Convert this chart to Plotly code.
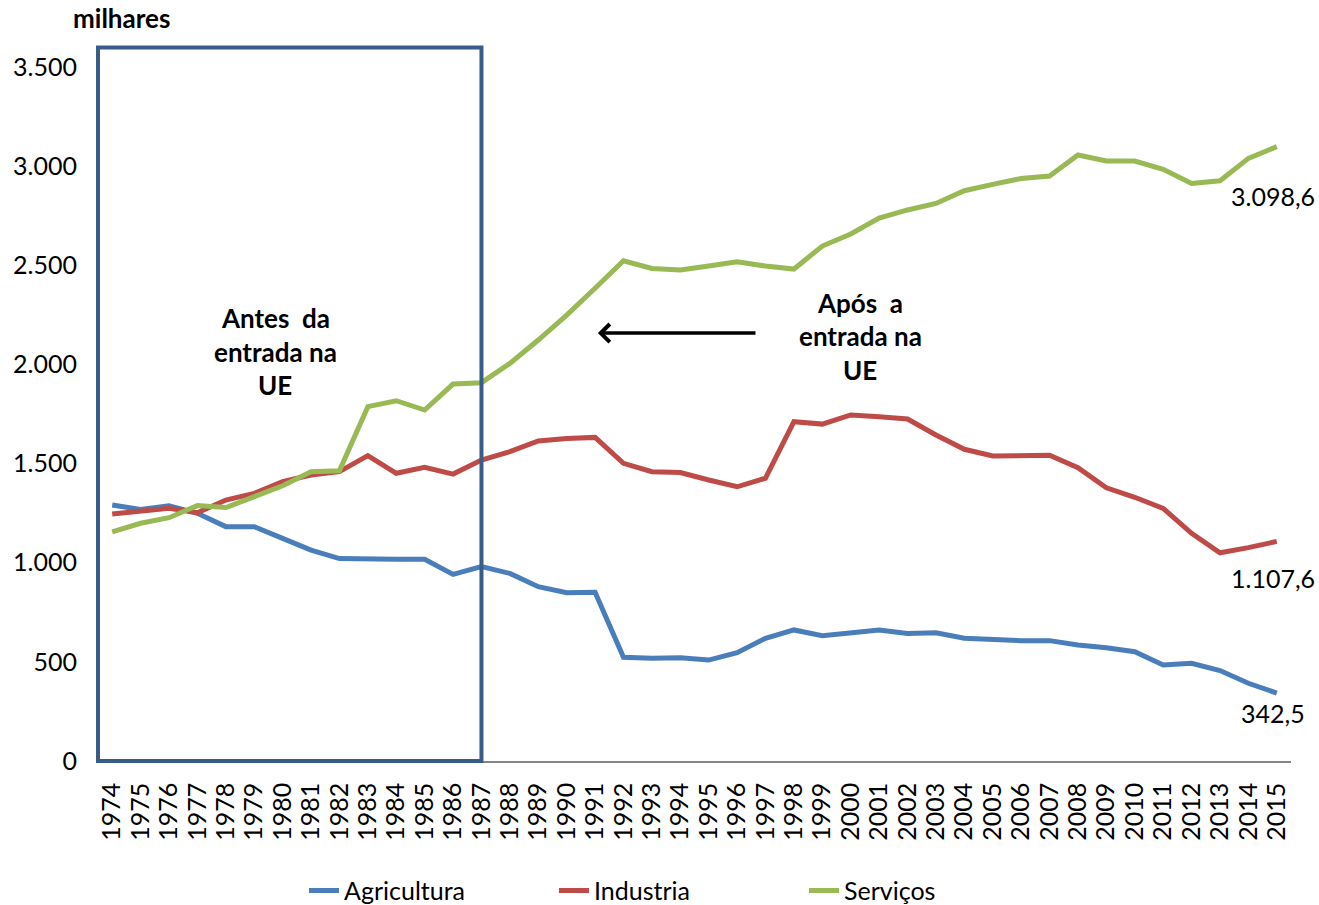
import plotly.graph_objects as go

years = list(range(1974, 2016))

agricultura = [1291, 1268, 1287, 1249, 1182, 1182, 1123, 1064, 1021, 1022, 1017, 1017,
               941, 980, 946, 879, 849, 851, 523, 518, 521, 509, 546, 619, 661, 632,
               649, 661, 643, 647, 619, 610, 607, 607, 585, 571, 551, 484, 493, 456,
               392, 342.5]
industria = [1246, 1262, 1274, 1252, 1316, 1350, 1409, 1442, 1459, 1540, 1451, 1481,
             1447, 1518, 1560, 1614, 1627, 1632, 1501, 1459, 1455, 1417, 1383, 1426,
             1711, 1699, 1745, 1736, 1725, 1644, 1572, 1538, 1542, 1542, 1479, 1378,
             1330, 1274, 1148, 1050, 1076, 1107.6]
servicos = [1156, 1199, 1227, 1288, 1278, 1330, 1388, 1459, 1464, 1787, 1817, 1770,
            1901, 1908, 2005, 2123, 2249, 2384, 2523, 2484, 2476, 2496, 2518, 2496,
            2481, 2597, 2658, 2738, 2779, 2812, 2876, 2908, 2938, 2950, 3056, 3026,
            3026, 2984, 2913, 2926, 3039, 3098.6]

series_names = ["Agricultura", "Industria", "Serviços"]
series_colors = ["#4A7EBB", "#BE4B48", "#98B954"]
y_ticks = [0, 500, 1000, 1500, 2000, 2500, 3000, 3500]
y_tick_labels = ["0", "500", "1.000", "1.500", "2.000", "2.500", "3.000", "3.500"]
end_labels = ["342,5", "1.107,6", "3.098,6"]

FONT = "Lato"
FS = 25
FSB = 26

fig = go.Figure()
for name, vals, col in zip(series_names, [agricultura, industria, servicos], series_colors):
    fig.add_trace(go.Scatter(x=years, y=vals, mode="lines", name=name,
                             line=dict(color=col, width=5)))

x_lo, x_hi = years[0] - 0.5, years[-1] + 0.5

fig.update_layout(
    width=1319, height=905,
    margin=dict(l=98, r=28, t=67, b=144, autoexpand=False),
    plot_bgcolor="white", paper_bgcolor="white",
    font=dict(family=FONT, size=FS, color="black"),
    showlegend=True,
    legend=dict(orientation="h", x=0.487, xanchor="center", y=-0.187, yanchor="middle",
                font=dict(size=FS), entrywidth=205, entrywidthmode="pixels"),
    xaxis=dict(range=[x_lo, x_hi], tickmode="array", tickvals=years,
               ticktext=[str(y) for y in years], tickangle=-90, automargin=False,
               showgrid=False, zeroline=False, showline=True, linecolor="#868686",
               linewidth=1.5, ticks="", ticklabelstandoff=10, tickfont=dict(size=FS)),
    yaxis=dict(range=[0, 3500], tickmode="array", tickvals=y_ticks, ticktext=y_tick_labels,
               showgrid=False, zeroline=False, showline=False, ticks="", automargin=False,
               ticklabelstandoff=20, tickfont=dict(size=FS)),
)

# Box marking the period before EU entry
fig.add_shape(type="rect", xref="x domain", yref="y domain",
              x0=0, x1=(1987 - x_lo) / (x_hi - x_lo), y0=0, y1=1.028,
              line=dict(color="#385D8A", width=4), layer="above")

# y-axis unit
fig.add_annotation(text="<b>milhares</b>", xref="paper", yref="paper", x=0.02, y=1.07,
                   xanchor="center", yanchor="middle", showarrow=False,
                   font=dict(size=FSB, family=FONT))

antes_lines = ["Antes\u00a0 da", "entrada na", "UE"]
apos_lines = ["Após\u00a0 a", "entrada na", "UE"]
for i, t in enumerate(antes_lines):
    fig.add_annotation(text=f"<b>{t}</b>", x=1979.74, y=2234 - i * 169, xref="x", yref="y",
                       showarrow=False, font=dict(size=FSB, family=FONT))
for i, t in enumerate(apos_lines):
    fig.add_annotation(text=f"<b>{t}</b>", x=2000.33, y=2310 - i * 169, xref="x", yref="y",
                       showarrow=False, font=dict(size=FSB, family=FONT))

# Arrow
fig.add_annotation(x=1991.1, y=2158, ax=1996.7, ay=2158, xref="x", yref="y",
                   axref="x", ayref="y", text="", showarrow=True,
                   arrowhead=4, arrowsize=1, arrowwidth=3.5, arrowcolor="black")

# End-of-series labels
shifts = [-20, -37, -49]
for vals, lab, sh in zip([agricultura, industria, servicos], end_labels, shifts):
    fig.add_annotation(x=years[-1], y=vals[-1], xref="x", yref="y", text=lab,
                       showarrow=False, xshift=-4, yshift=sh, yanchor="middle",
                       font=dict(size=FS, family=FONT))

fig.write_html("out.html", config={"displayModeBar": False},
               post_script="document.body.style.margin='0';document.body.style.overflow='hidden';")
